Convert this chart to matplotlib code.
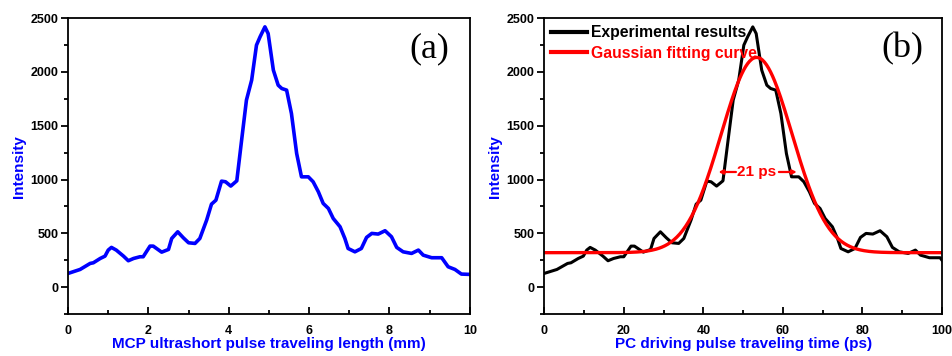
import numpy as np
import matplotlib
matplotlib.use("Agg")
import matplotlib.pyplot as plt
from matplotlib.ticker import MultipleLocator

# ---- data ----
length_mm = [0.0, 0.3, 0.55, 0.63, 0.8, 0.92, 1.0, 1.08, 1.2, 1.38, 1.5, 1.63, 1.79, 1.87,
             2.04, 2.12, 2.33, 2.5, 2.58, 2.73, 2.87, 3.0, 3.16, 3.28, 3.45, 3.57, 3.68,
             3.82, 3.92, 4.05, 4.2, 4.32, 4.44, 4.57, 4.69, 4.78, 4.9, 4.98, 5.11, 5.23,
             5.32, 5.44, 5.56, 5.69, 5.81, 5.98, 6.1, 6.23, 6.35, 6.48, 6.6, 6.77, 6.89,
             6.97, 7.14, 7.3, 7.43, 7.56, 7.72, 7.89, 8.05, 8.18, 8.34, 8.55, 8.72, 8.84,
             9.05, 9.3, 9.46, 9.63, 9.79, 10.0]
intensity = [127, 164, 220, 226, 266, 288, 344, 369, 344, 288, 245, 266, 282, 282,
             381, 381, 325, 350, 452, 514, 458, 412, 406, 452, 623, 771, 808,
             985, 979, 939, 988, 1366, 1738, 1924, 2249, 2327, 2419, 2357, 2017, 1877,
             1846, 1831, 1614, 1242, 1025, 1025, 979, 886, 778, 731, 638, 561, 452,
             359, 328, 359, 462, 499, 493, 524, 468, 369, 328, 313, 344, 297,
             273, 273, 189, 164, 121, 118]
ps_per_mm = 10.7  # conversion of travel length to time axis in panel (b)

# Gaussian fit parameters (baseline, amplitude, centre, FWHM)
g_y0, g_A, g_xc, g_w = 320, 1815, 53.4, 21.0
fwhm_level = 1070
fwhm_left, fwhm_right = 43.8, 63.5
fwhm_inner_left, fwhm_inner_right = 48.2, 59.0
fwhm_label = "21 ps"

x_ticks_a = [0, 2, 4, 6, 8, 10]
x_ticks_b = [0, 20, 40, 60, 80, 100]
y_ticks = [0, 500, 1000, 1500, 2000, 2500]

plt.rcParams['font.family'] = ['Liberation Sans', 'DejaVu Sans']
plt.rcParams['font.weight'] = 'bold'

fig = plt.figure(figsize=(9.53, 3.56), dpi=100)
ax1 = fig.add_axes([0.0714, 0.118, 0.4216, 0.831])
ax2 = fig.add_axes([0.571, 0.118, 0.4175, 0.831])

blue = '#0000ff'
red = '#ff0000'
x_len = np.array(length_mm)
y_int = np.array(intensity)

def style(ax, xmax, xmaj):
    ax.set_xlim(0, xmax)
    ax.set_ylim(-250, 2500)
    ax.xaxis.set_major_locator(MultipleLocator(xmaj))
    ax.xaxis.set_minor_locator(MultipleLocator(xmaj / 2))
    ax.yaxis.set_major_locator(MultipleLocator(500))
    ax.yaxis.set_minor_locator(MultipleLocator(250))
    ax.tick_params(axis='x', which='major', direction='in', length=5, width=1.3, labelsize=9, pad=8)
    ax.tick_params(axis='x', which='minor', direction='in', length=3, width=1.3)
    ax.tick_params(axis='y', which='major', direction='out', length=5, width=1.3, labelsize=9, pad=2)
    ax.tick_params(axis='y', which='minor', direction='out', length=3, width=1.3)
    for s in ax.spines.values():
        s.set_linewidth(1.3)
    for lab in ax.get_xticklabels() + ax.get_yticklabels():
        lab.set_fontweight('bold')
    ax.set_ylabel('Intensity', color=blue, fontsize=11, fontweight='bold', labelpad=3)

# panel (a)
ax1.plot(x_len, y_int, color=blue, lw=2.6, solid_joinstyle='round')
style(ax1, 10, 2)
ax1.set_xticks(x_ticks_a)
ax1.set_yticks(y_ticks)
ax1.set_xlabel('MCP ultrashort pulse traveling length (mm)', color=blue,
               fontsize=11, fontweight='bold', labelpad=0)
ax1.text(0.90, 0.895, '(a)', transform=ax1.transAxes, ha='center', va='center',
         fontsize=26, family='Liberation Serif', fontweight='normal')

# panel (b)
t_ps = x_len * ps_per_mm
tg = np.linspace(0, 100, 400)
yg = g_y0 + g_A * np.exp(-4 * np.log(2) * (tg - g_xc) ** 2 / g_w ** 2)
ax2.plot(t_ps, y_int, color='black', lw=2.2, label='Experimental results', solid_joinstyle='round')
ax2.plot(tg, yg, color=red, lw=2.4, label='Gaussian fitting curve')
style(ax2, 100, 20)
ax2.set_xticks(x_ticks_b)
ax2.set_yticks(y_ticks)
ax2.set_xlabel('PC driving pulse traveling time (ps)', color=blue,
               fontsize=11, fontweight='bold', labelpad=0)
ax2.text(0.90, 0.895, '(b)', transform=ax2.transAxes, ha='center', va='center',
         fontsize=26, family='Liberation Serif', fontweight='normal')
leg = ax2.legend(loc='upper left', frameon=False, fontsize=11.3, handlelength=2.3,
                 handletextpad=0.25, borderaxespad=0.25, labelspacing=0.35,
                 borderpad=0.2, labelcolor='linecolor')
for t in leg.get_texts():
    t.set_fontweight('bold')
for l in leg.get_lines():
    l.set_linewidth(3)

# FWHM annotation
ax2.text(g_xc, fwhm_level, fwhm_label, color=red, fontsize=11, fontweight='bold',
         ha='center', va='center')
ax2.annotate('', xy=(fwhm_left, fwhm_level), xytext=(fwhm_inner_left, fwhm_level),
             arrowprops=dict(arrowstyle='-|>', color=red, lw=1.6, mutation_scale=6,
                             shrinkA=0, shrinkB=0))
ax2.annotate('', xy=(fwhm_right, fwhm_level), xytext=(fwhm_inner_right, fwhm_level),
             arrowprops=dict(arrowstyle='-|>', color=red, lw=1.6, mutation_scale=6,
                             shrinkA=0, shrinkB=0))

fig.savefig('out.png', dpi=100)
